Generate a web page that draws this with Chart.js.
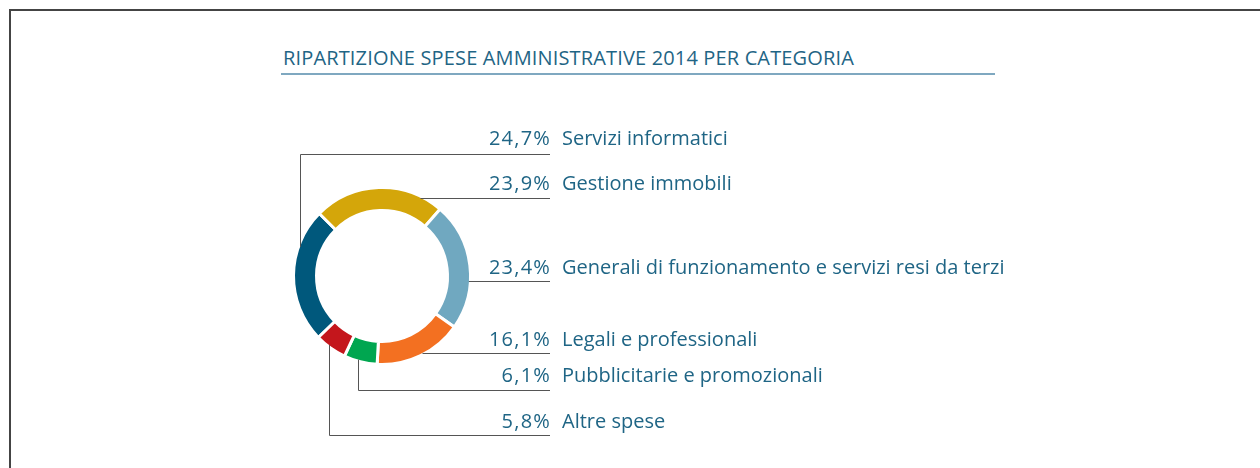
<!DOCTYPE html>
<html lang="it">
<head>
<meta charset="utf-8">
<title>Ripartizione spese amministrative 2014</title>
<script src="https://cdn.jsdelivr.net/npm/chart.js@4.4.1/dist/chart.umd.min.js"></script>
<style>
  html, body { margin:0; padding:0; background:#fff; }
  body { width:1260px; height:468px; position:relative; overflow:hidden; }
  .frame { position:absolute; left:9px; top:9px; width:1300px; height:500px;
           border-left:2px solid #444; border-top:2px solid #444; }
  .title { position:absolute; left:281px; top:46px; width:712px; padding-left:2px;
           font-family:'Open Sans','Noto Sans',sans-serif; font-size:20px; color:#1f6585;
           letter-spacing:0.15px; line-height:24px; padding-bottom:3px;
           border-bottom:2px solid #7fa8c0; white-space:nowrap; }
  #donut { position:absolute; left:0; top:0; }
</style>
</head>
<body>
<div class="frame"></div>
<div class="title">RIPARTIZIONE SPESE AMMINISTRATIVE 2014 PER CATEGORIA</div>
<canvas id="donut" width="1260" height="468"></canvas>
<script>
/* ---- data ---- */
const categories = [
  'Servizi informatici',
  'Gestione immobili',
  'Generali di funzionamento e servizi resi da terzi',
  'Legali e professionali',
  'Pubblicitarie e promozionali',
  'Altre spese',
];
const shares = [24.7, 23.9, 23.4, 16.1, 6.1, 5.8];
const colors = ['#00587c', '#d4a60a', '#70a8c0', '#f37021', '#00a650', '#c4161c'];

/* ---- label rows: text line, leader line, routing ---- */
// 'elbow' = vertical from the ring at x, then horizontal; 'flat' = horizontal from the ring's right side
const labelRows = [
  { textY:139, lineY:154, route:'elbow', x:300 },
  { textY:184, lineY:198, route:'flat' },
  { textY:268, lineY:281, route:'flat' },
  { textY:340, lineY:353, route:'flat' },
  { textY:376, lineY:390, route:'elbow', x:358 },
  { textY:422, lineY:435, route:'elbow', x:329 },
];
const LINE_END = 550;
const NAME_X = 562;
const TEXT_COLOR = '#1f6585';
const LABEL_FONT = "20px 'Open Sans','Noto Sans',sans-serif";

const fmt = v => v.toFixed(1).replace('.', ',') + '%';

const leaderLabels = {
  id: 'leaderLabels',
  afterDraw(chart){
    const ctx = chart.ctx;
    const arcs = chart.getDatasetMeta(0).data;
    ctx.save();
    ctx.strokeStyle = '#555';
    ctx.lineWidth = 1;
    ctx.font = LABEL_FONT;
    ctx.textBaseline = 'middle';
    ctx.fillStyle = TEXT_COLOR;
    labelRows.forEach((row, i) => {
      const a = arcs[i];
      const r = a.outerRadius - 1.5;
      const cx = a.x, cy = a.y;
      const mid = (a.startAngle + a.endAngle) / 2;
      ctx.beginPath();
      if(row.route === 'elbow'){
        const dx = row.x - cx;
        const dy = Math.sqrt(Math.max(r*r - dx*dx, 0));
        const sy = Math.sin(mid) < 0 ? cy - dy : cy + dy;
        ctx.moveTo(row.x + 0.5, sy);
        ctx.lineTo(row.x + 0.5, row.lineY + 0.5);
        ctx.lineTo(LINE_END, row.lineY + 0.5);
      } else {
        const dy = row.lineY - cy;
        const dx = Math.sqrt(Math.max(r*r - dy*dy, 0));
        ctx.moveTo(cx + dx, row.lineY + 0.5);
        ctx.lineTo(LINE_END, row.lineY + 0.5);
      }
      ctx.stroke();
      ctx.textAlign = 'right';
      ctx.letterSpacing = '1.2px';
      ctx.fillText(fmt(shares[i]), LINE_END + 1, row.textY);
      ctx.textAlign = 'left';
      ctx.letterSpacing = '0px';
      ctx.fillText(categories[i], NAME_X, row.textY);
    });
    ctx.restore();
  }
};

new Chart(document.getElementById('donut'), {
  type: 'doughnut',
  data: {
    labels: categories,
    datasets: [{
      data: shares,
      backgroundColor: colors,
      borderColor: '#fff',
      borderWidth: 3,
      hoverOffset: 0,
    }],
  },
  options: {
    responsive: false,
    animation: false,
    rotation: 226,
    cutout: '74%',
    layout: { padding: { left:292, right:788, top:186, bottom:102 } },
    plugins: { legend:{ display:false }, tooltip:{ enabled:false } },
  },
  plugins: [leaderLabels],
});
</script>
</body>
</html>
